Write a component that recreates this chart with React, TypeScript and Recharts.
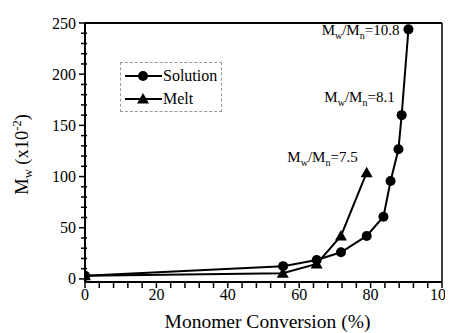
import React from 'react';
import { LineChart, Line, XAxis, YAxis, ReferenceLine, ReferenceDot, Legend, Label } from 'recharts';

const solutionConversion = [0, 55.5, 64.9, 71.7, 78.9, 83.6, 85.6, 87.8, 88.7, 90.6];
const solutionMw = [3, 12.5, 18.5, 26, 42, 60.8, 95.7, 126.6, 160, 243.8];
const meltConversion = [0, 55.4, 64.9, 71.7, 78.9];
const meltMw = [3, 5.6, 14.6, 42, 103.8];

const xTicks = [0, 4, 8, 12, 16, 20, 24, 28, 32, 36, 40, 44, 48, 52, 56, 60, 64, 68, 72, 76, 80, 84, 88, 92, 96, 100];
const xTickLabels = ['0', '20', '40', '60', '80', '100'];
const yTicks = [0, 10, 20, 30, 40, 50, 60, 70, 80, 90, 100, 110, 120, 130, 140, 150, 160, 170, 180, 190, 200, 210, 220, 230, 240, 250];
const yTickLabels = ['0', '50', '100', '150', '200', '250'];

const seriesNames = ['Solution', 'Melt'];
const ratioLabels = ['10.8', '8.1', '7.5'];
const ratioAnchorX = [90.6, 88.7, 78.9];
const ratioAnchorY = [243.8, 160, 103.8];

const solutionData = solutionConversion.map((x, i) => ({ x, y: solutionMw[i] }));
const meltData = meltConversion.map((x, i) => ({ x, y: meltMw[i] }));

const FONT = 'Liberation Serif';

const CircleDot = (props: any) => {
  const { cx, cy } = props;
  if (cx == null || cy == null) return null;
  return <circle cx={cx} cy={cy} r={5} fill="#000" />;
};

const TriangleDot = (props: any) => {
  const { cx, cy } = props;
  if (cx == null || cy == null) return null;
  return <polygon points={`${cx},${cy - 6} ${cx - 6},${cy + 4.5} ${cx + 6},${cy + 4.5}`} fill="#000" />;
};

const XTick = (props: any) => {
  const { x, y, payload } = props;
  const v = String(payload.value);
  const major = xTickLabels.includes(v);
  return (
    <g>
      <line x1={x} x2={x} y1={y} y2={y + 6} stroke="#000" strokeWidth={1.5} />
      {major && (
        <text x={x} y={y + 18} textAnchor="middle" style={{ fontFamily: FONT, fontSize: 16 }} fill="#000">
          {v}
        </text>
      )}
    </g>
  );
};

const YTick = (props: any) => {
  const { x, y, payload } = props;
  const v = String(payload.value);
  const major = yTickLabels.includes(v);
  return (
    <g>
      <line x1={x - (major ? 6 : 4)} x2={x + (major ? 0 : 2)} y1={y} y2={y} stroke="#000" strokeWidth={1.5} />
      {major && (
        <text x={x - 9} y={y + 5.5} textAnchor="end" style={{ fontFamily: FONT, fontSize: 16 }} fill="#000">
          {v}
        </text>
      )}
    </g>
  );
};

const LegendBox = () => {
  return (
    <div
      style={{
        width: 102,
        height: 50,
        boxSizing: 'border-box',
        border: '1px dashed #999',
        position: 'relative',
        fontFamily: FONT,
        fontSize: 16,
        color: '#000',
      }}
    >
      {seriesNames.map((name, i) => (
        <div key={name} style={{ position: 'absolute', left: 4, top: i === 0 ? 2 : 25, height: 22, display: 'flex', alignItems: 'center' }}>
          <svg width={37} height={14} style={{ display: 'block' }}>
            <line x1={0} x2={37} y1={7} y2={7} stroke="#000" strokeWidth={2} />
            {i === 0 ? (
              <circle cx={18} cy={7} r={5} fill="#000" />
            ) : (
              <polygon points="18,1 12,11.5 24,11.5" fill="#000" />
            )}
          </svg>
          <span style={{ marginLeft: 1, lineHeight: '22px', fontFamily: FONT }}>{name}</span>
        </div>
      ))}
    </div>
  );
};

const RatioLabel = (idx: number, dx: number, dy: number) => (props: any) => {
  const { cx, cy } = props;
  if (cx == null || cy == null) return null;
  return (
    <text x={cx + dx} y={cy + dy} textAnchor="end" style={{ fontFamily: FONT, fontSize: 15 }} fill="#000">
      M<tspan dy={4} style={{ fontSize: 10 }}>w</tspan>
      <tspan dy={-4}>/M</tspan>
      <tspan dy={4} style={{ fontSize: 10 }}>n</tspan>
      <tspan dy={-4}>={ratioLabels[idx]}</tspan>
    </text>
  );
};

const ratioOffsets = [
  [-9, 5.5],
  [-7, -13],
  [-9, -11],
];

export default function App() {
  return (
    <LineChart
      width={445}
      height={325}
      margin={{ top: 15, right: 11, left: 0, bottom: 0 }}
      style={{ fontFamily: FONT }}
    >
      <XAxis
        type="number"
        dataKey="x"
        domain={[0, 100]}
        ticks={xTicks}
        interval={0}
        allowDataOverflow
        stroke="#000"
        strokeWidth={2}
        tickLine={false}
        tickSize={0}
        tickMargin={0}
        tick={<XTick />}
        height={51}
      >
        <Label
          content={(p: any) => {
            const vb = p.viewBox;
            return (
              <text x={vb.x + vb.width / 2 + 4} y={vb.y + 46} textAnchor="middle" style={{ fontFamily: FONT, fontSize: 19.5 }} fill="#000">
                Monomer Conversion (%)
              </text>
            );
          }}
        />
      </XAxis>
      <YAxis
        type="number"
        dataKey="y"
        domain={[-3, 250]}
        ticks={yTicks}
        interval={0}
        allowDataOverflow
        stroke="#000"
        strokeWidth={2}
        tickLine={false}
        tickSize={0}
        tickMargin={0}
        tick={<YTick />}
        width={77}
      >
        <Label
          content={(p: any) => {
            const vb = p.viewBox;
            const cx = 20;
            const cy = vb.y + vb.height / 2 + 2;
            return (
              <text x={cx} y={cy} transform={`rotate(-90, ${cx}, ${cy})`} textAnchor="middle" style={{ fontFamily: FONT, fontSize: 18.5 }} fill="#000">
                M<tspan dy={4} style={{ fontSize: 12.5 }}>w</tspan>
                <tspan dy={-4}> (x10</tspan>
                <tspan dy={-7} style={{ fontSize: 12.5 }}>-2</tspan>
                <tspan dy={7}>)</tspan>
              </text>
            );
          }}
        />
      </YAxis>
      <ReferenceLine y={250} stroke="#000" strokeWidth={2} />
      <ReferenceLine x={100} stroke="#000" strokeWidth={1.5} />
      <Legend
        layout="vertical"
        align="center"
        verticalAlign="middle"
        content={<LegendBox />}
        wrapperStyle={{ position: 'absolute', left: 112, top: 54, width: 102, height: 50 }}
      />
      <Line
        data={solutionData}
        dataKey="y"
        name={seriesNames[0]}
        stroke="#000"
        strokeWidth={2}
        dot={<CircleDot />}
        activeDot={false}
        isAnimationActive={false}
      />
      <Line
        data={meltData}
        dataKey="y"
        name={seriesNames[1]}
        stroke="#000"
        strokeWidth={2}
        dot={<TriangleDot />}
        activeDot={false}
        isAnimationActive={false}
      />
      {ratioLabels.map((r, i) => (
        <ReferenceDot
          key={r}
          x={ratioAnchorX[i]}
          y={ratioAnchorY[i]}
          r={0}
          shape={RatioLabel(i, ratioOffsets[i][0], ratioOffsets[i][1])}
        />
      ))}
    </LineChart>
  );
}
